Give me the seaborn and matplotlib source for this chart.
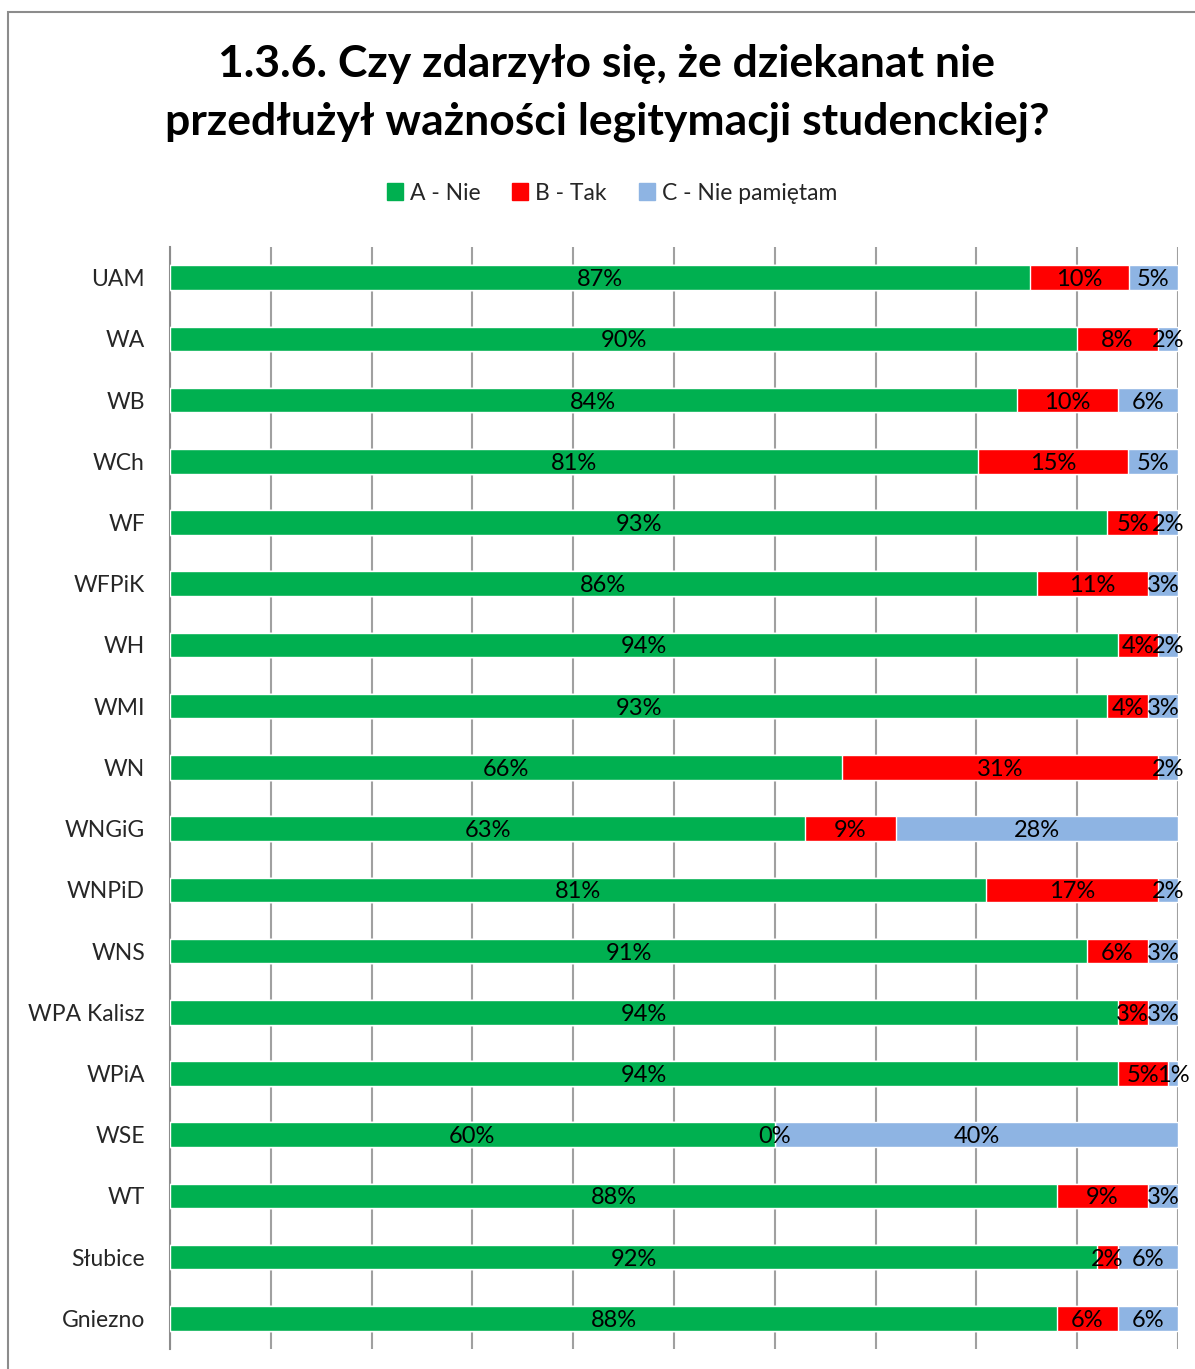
import matplotlib
matplotlib.use("Agg")
import matplotlib.pyplot as plt
import matplotlib.patches as mpatches
import seaborn as sns
import pandas as pd
import numpy as np

# ── data (as printed on the bars, in %) ─────────────────────
wydzialy = ["UAM", "WA", "WB", "WCh", "WF", "WFPiK", "WH", "WMI", "WN",
            "WNGiG", "WNPiD", "WNS", "WPA Kalisz", "WPiA", "WSE", "WT",
            "Słubice", "Gniezno"]
nie = [87, 90, 84, 81, 93, 86, 94, 93, 66, 63, 81, 91, 94, 94, 60, 88, 92, 88]
tak = [10, 8, 10, 15, 5, 11, 4, 4, 31, 9, 17, 6, 3, 5, 0, 9, 2, 6]
nie_pamietam = [5, 2, 6, 5, 2, 3, 2, 3, 2, 28, 2, 3, 3, 1, 40, 3, 6, 6]

series = ["A - Nie", "B - Tak", "C - Nie pamiętam"]
colors = ["#00B050", "#FF0000", "#8EB4E3"]

df = pd.DataFrame({"Wydzial": wydzialy, "A": nie, "B": tak, "C": nie_pamietam})
total = df[["A", "B", "C"]].sum(axis=1)
# 100% stacked: normalise each row
df["A_n"] = df["A"] / total * 100
df["B_n"] = df["B"] / total * 100
df["C_n"] = df["C"] / total * 100
df["cum_A"] = df["A_n"]
df["cum_B"] = df["A_n"] + df["B_n"]
df["cum_C"] = df["cum_B"] + df["C_n"]

sns.set_style("white")
plt.rcParams["font.family"] = ["Lato", "DejaVu Sans"]

fig = plt.figure(figsize=(11.95, 13.69), dpi=100)
W, H = 1195, 1369
ax = fig.add_axes([170 / W, 1 - 1349 / H, (1178 - 170) / W, (1349 - 247) / H])

# outer chart frame (runs off the right/bottom edge like the source)
fig.patches.append(mpatches.Rectangle((8 / W, -0.1), 1.2, 1.1 - 12 / H,
                                      transform=fig.transFigure, fill=False,
                                      edgecolor="#8c8c8c", linewidth=1.5))

# stacked bars: draw cumulative totals from back to front
for col, c in zip(["cum_C", "cum_B", "cum_A"], colors[::-1]):
    sns.barplot(data=df, x=col, y="Wydzial", orient="h", color=c,
                width=0.4, saturation=1, ax=ax, zorder=3)

# value labels centred in each segment
for i, row in df.iterrows():
    starts = [0, row["cum_A"], row["cum_B"]]
    widths = [row["A_n"], row["B_n"], row["C_n"]]
    vals = [row["A"], row["B"], row["C"]]
    for s, w, v in zip(starts, widths, vals):
        ax.text(s + w / 2, i, f"{v:.0f}%", ha="center", va="center_baseline",
                fontsize=17, color="black", zorder=5)

ax.set_xlim(0, 100)
ax.set_ylim(len(wydzialy) - 0.5, -0.5)
ax.set_xticks(np.arange(0, 101, 10))
ax.xaxis.grid(True, color="#a0a0a0", linewidth=1.5, zorder=0)
ax.set_axisbelow(True)
ax.tick_params(axis="x", length=0, labelbottom=False)
ax.set_yticks(np.arange(len(wydzialy)))
ax.set_yticklabels(wydzialy, fontsize=16.5)
ax.set_yticks(np.arange(-0.5, len(wydzialy)), minor=True)
ax.tick_params(axis="y", which="major", length=0, pad=18)
ax.tick_params(axis="y", which="minor", length=9, width=1.5, color="#8c8c8c")
ax.set_xlabel("")
ax.set_ylabel("")
for side in ["top", "right", "bottom"]:
    ax.spines[side].set_visible(False)
ax.spines["left"].set_color("#8c8c8c")
ax.spines["left"].set_linewidth(1.5)

fig.text(607 / W, 1 - 93 / H,
         "1.3.6. Czy zdarzyło się, że dziekanat nie\n"
         "przedłużył ważności legitymacji studenckiej?",
         ha="center", va="center", fontsize=32, fontweight="bold",
         linespacing=1.55, color="black")

handles = [mpatches.Patch(color=c, label=s) for c, s in zip(colors, series)]
fig.legend(handles=handles, loc="center", bbox_to_anchor=(612 / W, 1 - 193 / H),
           ncol=3, frameon=False, fontsize=16.5, handlelength=0.7,
           handleheight=0.7, handletextpad=0.3, columnspacing=1.4)

plt.savefig("out.png", dpi=100)
